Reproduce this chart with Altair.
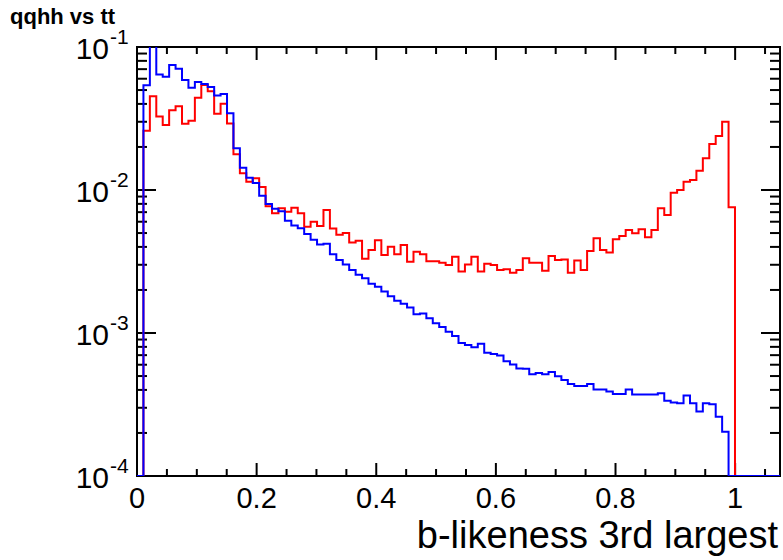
import altair as alt
import numpy as np
import pandas as pd

# ---------------- data ----------------
X_MIN, X_MAX, N_BINS = 0.0, 1.075, 100

blue_vals = [
    0.0, 0.0540, 0.105, 0.0642, 0.0620, 0.0748, 0.0705, 0.0588, 0.0519, 0.0569,
    0.0551, 0.0525, 0.0458, 0.0469, 0.0344, 0.0196, 0.0143, 0.0122, 0.0112, 0.0091,
    0.00798, 0.00739, 0.00710, 0.00609, 0.00565, 0.00540, 0.00492, 0.00449, 0.00416, 0.00421,
    0.00356, 0.00324, 0.00301, 0.00276, 0.00255, 0.00241, 0.00221, 0.00211, 0.00195, 0.00181,
    0.00168, 0.00160, 0.00151, 0.00135, 0.00137, 0.00127, 0.00117, 0.00110, 0.00102, 0.000953,
    0.000851, 0.000824, 0.000796, 0.000842, 0.000728, 0.000713, 0.000696, 0.000635, 0.000602, 0.000564,
    0.000563, 0.000515, 0.000525, 0.000515, 0.000533, 0.000498, 0.000469, 0.000440, 0.000426, 0.000426,
    0.000440, 0.000403, 0.000403, 0.000390, 0.000374, 0.000374, 0.000403, 0.000372, 0.000372, 0.000372,
    0.000372, 0.000379, 0.000336, 0.000326, 0.000323, 0.000365, 0.000323, 0.000282, 0.000323, 0.000317,
    0.000260, 0.000204, 0.0, 0.0, 0.0, 0.0, 0.0, 0.0, 0.0, 0.0,
]

red_vals = [
    0.0, 0.0260, 0.0453, 0.0327, 0.0285, 0.0361, 0.0385, 0.0291, 0.0305, 0.0441,
    0.0542, 0.0490, 0.0342, 0.0401, 0.0292, 0.0178, 0.0131, 0.0114, 0.0121, 0.0105,
    0.00769, 0.00687, 0.00745, 0.00705, 0.00751, 0.00687, 0.00554, 0.00600, 0.00560, 0.00725,
    0.00539, 0.00487, 0.00500, 0.00430, 0.00442, 0.00330, 0.00380, 0.00445, 0.00351, 0.00401,
    0.00355, 0.00412, 0.00315, 0.00370, 0.00355, 0.00318, 0.00318, 0.00310, 0.00299, 0.00342,
    0.00269, 0.00301, 0.00342, 0.00269, 0.00305, 0.00299, 0.00276, 0.00279, 0.00264, 0.00276,
    0.00333, 0.00310, 0.00310, 0.00273, 0.00345, 0.00324, 0.00327, 0.00264, 0.00321, 0.00276,
    0.00374, 0.00459, 0.00380, 0.00365, 0.00452, 0.00476, 0.00525, 0.00498, 0.00531, 0.00467,
    0.00525, 0.00745, 0.00668, 0.00957, 0.0100, 0.01143, 0.01175, 0.01365, 0.01665, 0.0210,
    0.0239, 0.0300, 0.00757, 0.0, 0.0, 0.0, 0.0, 0.0, 0.0, 0.0,
]

x_label_values = [0, 0.2, 0.4, 0.6, 0.8, 1.0]
x_label_texts = ["0", "0.2", "0.4", "0.6", "0.8", "1"]
x_minor_ticks = [0.05, 0.1, 0.15, 0.25, 0.3, 0.35, 0.45, 0.5, 0.55, 0.65, 0.7, 0.75,
                 0.85, 0.9, 0.95, 1.05]
y_major_ticks = [1e-4, 1e-3, 1e-2, 1e-1]
y_minor_ticks = [m * 10.0 ** e for e in (-4, -3, -2) for m in range(2, 10)]
y_label_exps = ["-1", "-2", "-3", "-4"]
title_text = "qqhh vs tt"
x_title = "b-likeness 3rd largest"

Y_MIN, Y_MAX = 1e-4, 1e-1

# ---------------- layout ----------------
W, H = 643, 429
FONT = "Liberation Sans"

edges = np.linspace(X_MIN, X_MAX, N_BINS + 1)


def step_frame(vals):
    v = list(vals) + [vals[-1]]
    return pd.DataFrame({"x": edges, "v": np.maximum(np.array(v, dtype=float), Y_MIN)})


xscale = alt.Scale(domain=[X_MIN, X_MAX], nice=False, zero=False)
yscale = alt.Scale(type="log", domain=[Y_MIN, Y_MAX], nice=False)

red_line = alt.Chart(step_frame(red_vals)).mark_line(
    interpolate="step-after", color="#ff0000", strokeWidth=2, clip=True
).encode(
    x=alt.X("x:Q", scale=xscale, axis=None),
    y=alt.Y("v:Q", scale=yscale, axis=None),
)

blue_line = alt.Chart(step_frame(blue_vals)).mark_line(
    interpolate="step-after", color="#0000ff", strokeWidth=2, clip=True
).encode(
    x=alt.X("x:Q", scale=xscale, axis=None),
    y=alt.Y("v:Q", scale=yscale, axis=None),
)


def x_ticks(vals, length, top):
    df = pd.DataFrame({"t": vals})
    if top:
        y, y2 = alt.value(0), alt.value(length)
    else:
        y, y2 = alt.value(H), alt.value(H - length)
    return alt.Chart(df).mark_rule(color="black", strokeWidth=2).encode(
        x=alt.X("t:Q", scale=xscale, axis=None), y=y, y2=y2
    )


def y_ticks(vals, length, right):
    df = pd.DataFrame({"t": vals})
    if right:
        x, x2 = alt.value(W), alt.value(W - length)
    else:
        x, x2 = alt.value(0), alt.value(length)
    return alt.Chart(df).mark_rule(color="black", strokeWidth=2).encode(
        y=alt.Y("t:Q", scale=yscale, axis=None), x=x, x2=x2
    )


tick_layers = [
    x_ticks(x_label_values, 13, False), x_ticks(x_minor_ticks, 7, False),
    x_ticks(x_label_values, 13, True), x_ticks(x_minor_ticks, 7, True),
    y_ticks(y_major_ticks, 19, False), y_ticks(y_minor_ticks, 10, False),
    y_ticks(y_major_ticks, 19, True), y_ticks(y_minor_ticks, 10, True),
]

# x tick labels and title
xlab = alt.Chart(pd.DataFrame({"t": x_label_values, "s": x_label_texts})).mark_text(
    align="center", baseline="middle", fontSize=29, font=FONT, color="black"
).encode(x=alt.X("t:Q", scale=xscale, axis=None), y=alt.value(H + 23), text="s:N")

xtitle = alt.Chart(pd.DataFrame({"t": [x_title]})).mark_text(
    align="right", baseline="alphabetic", fontSize=38, font=FONT, color="black"
).encode(x=alt.value(W - 2), y=alt.value(H + 72), text="t:N")

ylab_df = pd.DataFrame({
    "val": [10.0 ** int(e) for e in y_label_exps],
    "base": ["10"] * len(y_label_exps),
    "exp": y_label_exps,
})

ylab_base = alt.Chart(ylab_df).mark_text(
    align="right", baseline="middle", fontSize=30, font=FONT, color="black", dy=3
).encode(y=alt.Y("val:Q", scale=yscale, axis=None), x=alt.value(-28), text="base:N")

ylab_exp = alt.Chart(ylab_df).mark_text(
    align="left", baseline="middle", fontSize=21, font=FONT, color="black", dy=-9
).encode(y=alt.Y("val:Q", scale=yscale, axis=None), x=alt.value(-27), text="exp:N")

title_mark = alt.Chart(pd.DataFrame({"t": [title_text]})).mark_text(
    align="left", baseline="middle", fontSize=22, fontWeight="bold", font=FONT, color="black"
).encode(x=alt.value(10 - 137), y=alt.value(17 - 47), text="t:N")

chart = alt.layer(
    *tick_layers, red_line, blue_line, xlab, xtitle, ylab_base, ylab_exp, title_mark
).properties(
    width=W, height=H,
    padding={"left": 137, "top": 47, "right": 3, "bottom": 84},
    autosize=alt.AutoSizeParams(type="none"),
    background="white",
).configure_view(stroke="black", strokeWidth=2)

chart.save("out.html", embed_options={"renderer": "svg", "actions": False})
